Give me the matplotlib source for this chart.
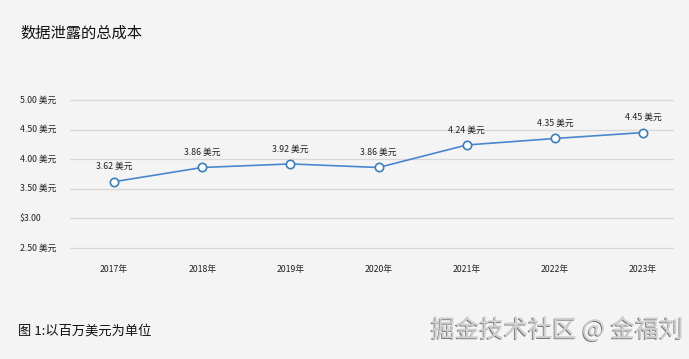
import matplotlib
matplotlib.use("Agg")
import matplotlib.pyplot as plt
import matplotlib.patheffects as pe
from matplotlib.transforms import blended_transform_factory

plt.rcParams['font.family'] = ['Noto Sans CJK SC', 'DejaVu Sans']

years = ["2017年", "2018年", "2019年", "2020年", "2021年", "2022年", "2023年"]
costs = [3.62, 3.86, 3.92, 3.86, 4.24, 4.35, 4.45]
value_labels = ["3.62 美元", "3.86 美元", "3.92 美元", "3.86 美元", "4.24 美元", "4.35 美元", "4.45 美元"]
y_ticks = [2.5, 3.0, 3.5, 4.0, 4.5, 5.0]
y_tick_labels = ["2.50 美元", "$3.00", "3.50 美元", "4.00 美元", "4.50 美元", "5.00 美元"]

W, H = 689, 359
bg = "#f4f4f4"
fig = plt.figure(figsize=(W/100, H/100), dpi=100, facecolor=bg)
ax = fig.add_axes([70/W, 1-248/H, (673-70)/W, (248-100)/H], facecolor=bg)

x = list(range(len(years)))
ax.plot(x, costs, color="#4a86d0", lw=1.2, zorder=3,
        marker="o", ms=6, mfc="white", mec="#3a80b8", mew=1.2, clip_on=False)
for xi, v, lab in zip(x, costs, value_labels):
    ax.annotate(lab, (xi, v), xytext=(0, 7.5), textcoords="offset points",
                ha="center", va="bottom", fontsize=6.3, color="#222222")

ax.set_xlim(-0.5, 6.34)
ax.set_ylim(2.5, 5.0)
ax.set_yticks(y_ticks)
ax.set_yticklabels([])
ax.set_xticks(x)
ax.set_xticklabels(years, fontsize=6.3, color="#222222")
ax.tick_params(axis="x", length=0, pad=12)
ax.tick_params(axis="y", length=0)
ax.grid(axis="y", color="#d8d8d8", lw=0.9, clip_on=False)
ax.set_axisbelow(True)
for s in ax.spines.values():
    s.set_visible(False)

tr = blended_transform_factory(fig.transFigure, ax.transData)
for t, lab in zip(y_ticks, y_tick_labels):
    ax.text(20/W, t, lab, transform=tr, ha="left", va="center", fontsize=6.3, color="#222222")

fig.text(20/W, 1-33/H, "数据泄露的总成本", fontsize=11, color="#111111", ha="left", va="center")
fig.text(18/W, 1-331/H, "图 1:以百万美元为单位", fontsize=9.5, color="#111111", ha="left", va="center")
fig.text(683/W, 1-330/H, "掘金技术社区 @ 金福刘", fontsize=17.5, color="#cfcfcf", ha="right", va="center",
         path_effects=[pe.withSimplePatchShadow(offset=(-0.7, -0.7), shadow_rgbFace="#666666", alpha=0.9), pe.Normal()])

fig.savefig("out.png", dpi=100, facecolor=bg)
